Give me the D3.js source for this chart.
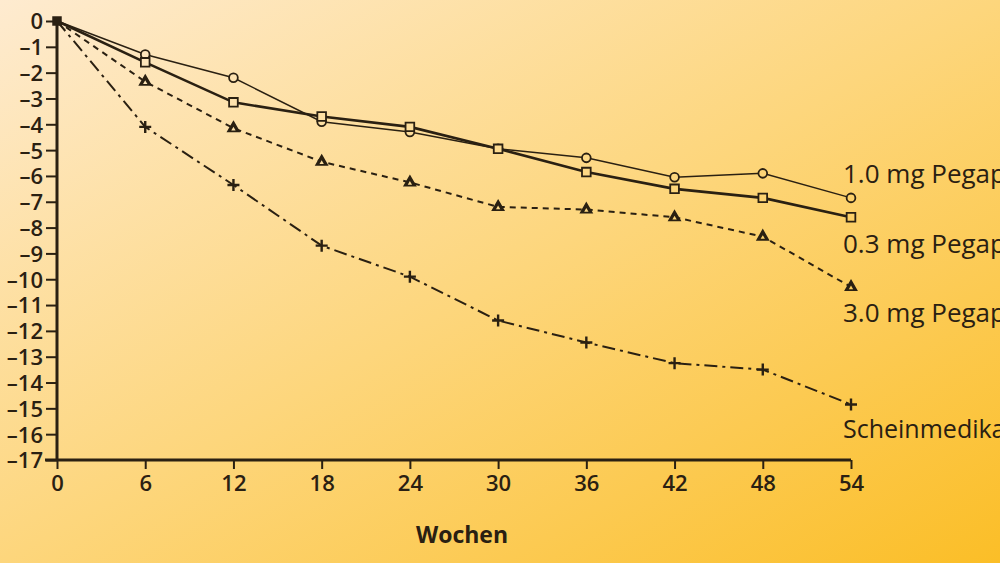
<!DOCTYPE html>
<html>
<head>
<meta charset="utf-8">
<script src="https://cdn.jsdelivr.net/npm/d3@7"></script>
<style>
  body { margin: 0; overflow: hidden; }
  text { font-family: "Open Sans", "DejaVu Sans", sans-serif; fill: #2a2012; }
</style>
</head>
<body>
<div id="chart"></div>
<script>
// weeks on the x axis
const weeks = [0, 6, 12, 18, 24, 30, 36, 42, 48, 54];

// change in visual acuity (letters)
const dose10 = [0, -1.3, -2.2, -3.9, -4.3, -4.95, -5.3, -6.05, -5.9, -6.85];
const dose03 = [0, -1.6, -3.15, -3.7, -4.1, -4.95, -5.85, -6.5, -6.85, -7.6];
const dose30 = [0, -2.35, -4.15, -5.45, -6.25, -7.2, -7.3, -7.6, -8.35, -10.3];
const placebo = [0, -4.1, -6.35, -8.7, -9.9, -11.6, -12.45, -13.25, -13.5, -14.85];

const seriesNames = ["1.0 mg Pegaptanib", "0.3 mg Pegaptanib", "3.0 mg Pegaptanib", "Scheinmedikation"];
const yTicks = d3.range(0, -18, -1);

const width = 1000, height = 563;
const margin = {top: 21, left: 57};
const plotRight = 851, plotBottom = 460;

const svg = d3.select("#chart").append("svg")
    .attr("width", width)
    .attr("height", height);

// background gradient, light peach top-left to deep yellow bottom-right
const bgStops = ["#feebd0", "#fdd67c", "#fbbe27"];
const grad = svg.append("defs").append("linearGradient")
    .attr("id", "bg")
    .attr("x1", 0).attr("y1", 0).attr("x2", 1).attr("y2", 1);
grad.selectAll("stop").data(bgStops).join("stop")
    .attr("offset", (d, i) => i / (bgStops.length - 1))
    .attr("stop-color", d => d);
svg.append("rect").attr("width", width).attr("height", height).attr("fill", "url(#bg)");

// colour of the background at a point, used to fill hollow markers
const bgColor = d3.scaleLinear().domain([0, 0.5, 1]).range(bgStops);
const bgAt = (px, py) => bgColor((px / width + py / height) / 2);

const x = d3.scaleLinear().domain([0, 54]).range([margin.left, plotRight]);
const y = d3.scaleLinear().domain([-17, 0]).range([plotBottom, margin.top]);

const ink = "#2a2012";

// y axis
const yAxis = svg.append("g")
    .attr("transform", "translate(" + margin.left + ",0)")
    .call(d3.axisLeft(y).tickValues(yTicks).tickSize(11).tickPadding(3)
        .tickFormat(d => d === 0 ? "0" : "\u2013" + Math.abs(d)));
yAxis.select(".domain").attr("stroke", ink).attr("stroke-width", 3)
    .attr("d", "M0," + plotBottom + "V" + margin.top);
yAxis.selectAll(".tick line").attr("stroke", ink).attr("stroke-width", 2);
yAxis.selectAll(".tick text").attr("font-size", 22).attr("font-weight", 600)
    .attr("dy", "0.36em").style("fill", ink);

// x axis
const xAxis = svg.append("g")
    .attr("transform", "translate(0," + plotBottom + ")")
    .call(d3.axisBottom(x).tickValues(weeks).tickSize(9).tickPadding(6));
xAxis.select(".domain").attr("stroke", ink).attr("stroke-width", 3)
    .attr("d", "M" + (margin.left - 12) + ",0H" + plotRight);
xAxis.selectAll(".tick line").attr("stroke", ink).attr("stroke-width", 2);
xAxis.selectAll(".tick text").attr("font-size", 22).attr("font-weight", 600).style("fill", ink);

svg.append("text")
    .attr("x", 462).attr("y", 543)
    .attr("text-anchor", "middle")
    .attr("font-size", 23).attr("font-weight", "bold")
    .text("Wochen");

// series, drawn back to front
const series = [
    {name: seriesNames[3], values: placebo, width: 2, dash: "13,5,3,5", marker: "plus", label: 438},
    {name: seriesNames[2], values: dose30, width: 2, dash: "6,5", marker: "triangle", label: 322},
    {name: seriesNames[0], values: dose10, width: 1.5, dash: null, marker: "circle", label: 183},
    {name: seriesNames[1], values: dose03, width: 2.6, dash: null, marker: "square", label: 253}
];

const line = d3.line()
    .x((d, i) => x(weeks[i]))
    .y(d => y(d));

series.forEach(function(s) {
    svg.append("path")
        .datum(s.values)
        .attr("fill", "none")
        .attr("stroke", ink)
        .attr("stroke-width", s.width)
        .attr("stroke-dasharray", s.dash)
        .attr("d", line);
});

// markers (skip week 0, drawn as one shared filled square)
const symbols = {
    circle: d3.symbol().type(d3.symbolCircle).size(60),
    square: d3.symbol().type(d3.symbolSquare).size(75),
    triangle: d3.symbol().type(d3.symbolTriangle).size(55)
};

series.forEach(function(s) {
    const pts = s.values.map((v, i) => ({wk: weeks[i], v: v})).slice(1);

    if (s.marker === "plus") {
        svg.append("g").selectAll("path")
            .data(pts)
            .join("path")
            .attr("transform", d => "translate(" + x(d.wk) + "," + y(d.v) + ")")
            .attr("d", "M-6,0H6M0,-6V6")
            .attr("stroke", ink)
            .attr("stroke-width", 2.4);
    } else {
        svg.append("g").selectAll("path")
            .data(pts)
            .join("path")
            .attr("transform", d => "translate(" + x(d.wk) + "," + y(d.v) + ")")
            .attr("d", symbols[s.marker]())
            .attr("fill", d => s.marker === "triangle" ? ink : bgAt(x(d.wk), y(d.v)))
            .attr("stroke", ink)
            .attr("stroke-width", s.marker === "triangle" ? 1.5 : 1.8);
    }

    // series label to the right of the last point (cut by the page edge, as in the print)
    svg.append("text")
        .attr("x", 843)
        .attr("y", s.label)
        .attr("font-size", s.marker === "plus" ? 25 : 26)
        .attr("font-weight", 500)
        .text(s.name);
});

// triangles have a small light centre
series.filter(s => s.marker === "triangle").forEach(function(s) {
    svg.append("g").selectAll("path")
        .data(s.values.slice(1))
        .join("path")
        .attr("transform", (d, i) => "translate(" + x(weeks[i + 1]) + "," + (y(d) + 1) + ")")
        .attr("d", d3.symbol().type(d3.symbolTriangle).size(8)())
        .attr("fill", (d, i) => bgAt(x(weeks[i + 1]), y(d)));
});

// shared starting point
svg.append("path")
    .attr("transform", "translate(" + x(weeks[0]) + "," + y(dose10[0]) + ")")
    .attr("d", d3.symbol().type(d3.symbolSquare).size(90)())
    .attr("fill", ink);
</script>
</body>
</html>
